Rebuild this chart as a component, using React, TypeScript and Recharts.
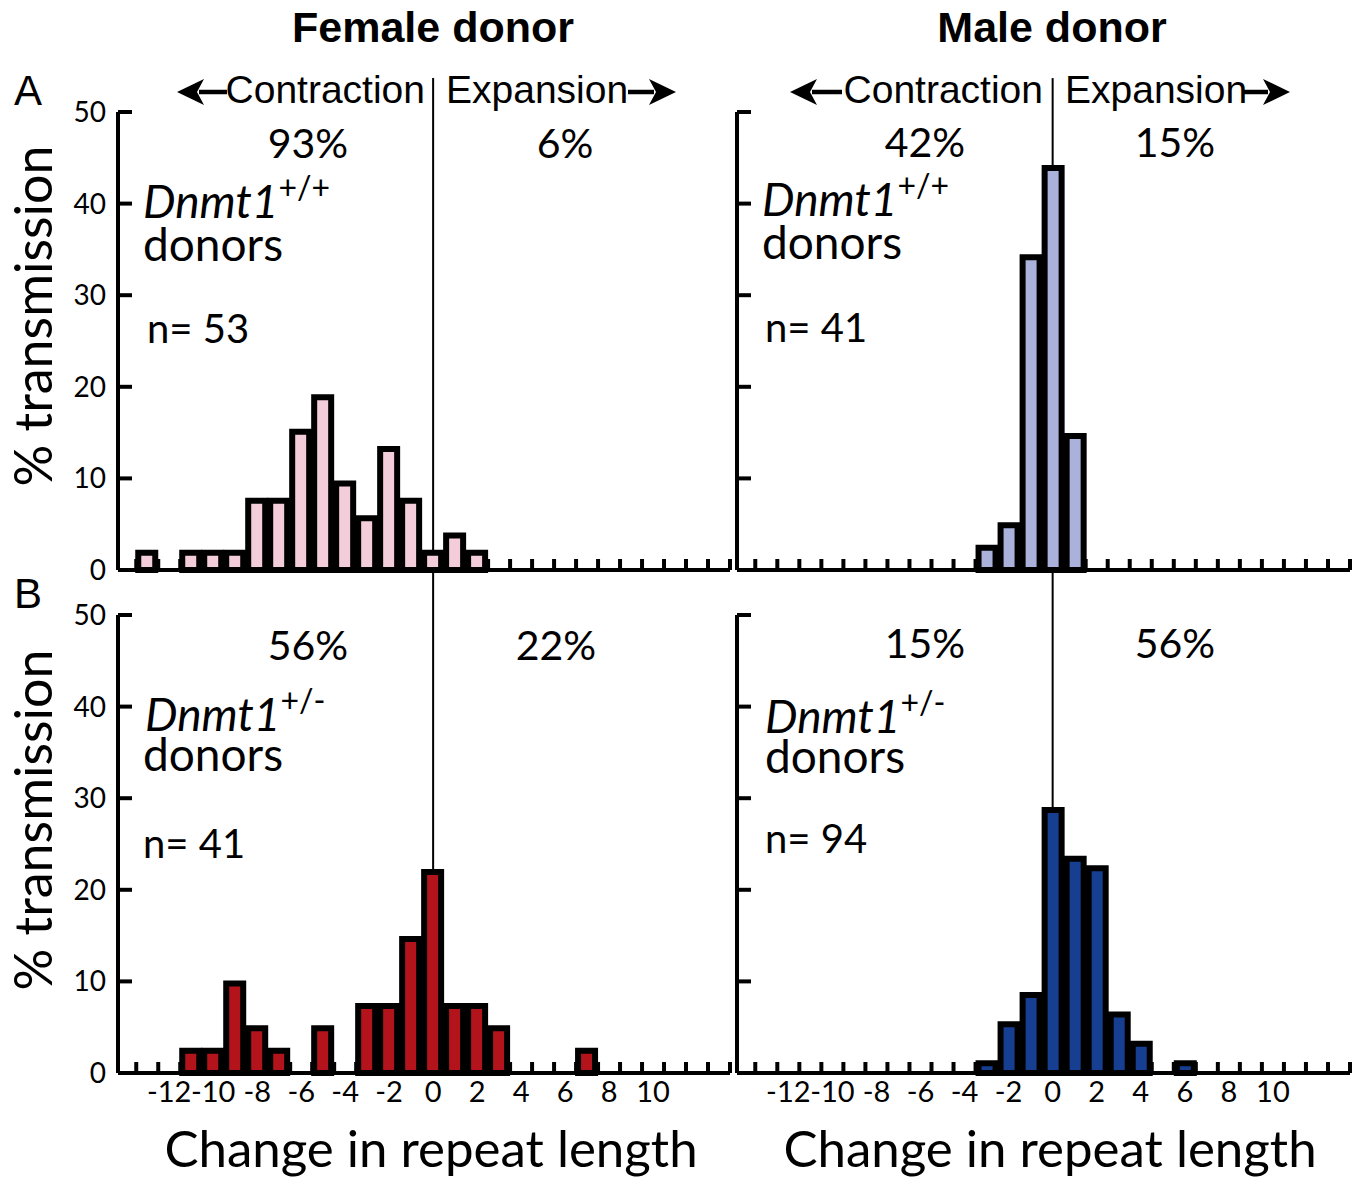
import React from 'react'
import { ComposedChart, Bar, XAxis, YAxis, ReferenceLine } from 'recharts'

// change in repeat length (bin centres)
const repeatChange = [-13, -12, -11, -10, -9, -8, -7, -6, -5, -4, -3, -2, -1, 0, 1, 2, 3, 4, 5, 6, 7]

// % transmission per bin
const femaleWildType = [1.89, null, 1.89, 1.89, 1.89, 7.55, 7.55, 15.09, 18.87, 9.43, 5.66, 13.21, 7.55, 1.89, 3.77, 1.89, null, null, null, null, null]
const maleWildType = [null, null, null, null, null, null, null, null, null, null, 2.44, 4.88, 34.15, 43.9, 14.63, null, null, null, null, null, null]
const femaleHet = [null, null, 2.44, 2.44, 9.76, 4.88, 2.44, null, 4.88, null, 7.32, 7.32, 14.63, 21.95, 7.32, 7.32, 4.88, null, null, null, 2.44]
const maleHet = [null, null, null, null, null, null, null, null, null, null, 1.06, 5.32, 8.51, 28.72, 23.4, 22.34, 6.38, 3.19, null, 1.06, null]

// labelled ticks and the small bin-edge marks along the x axis
const xLabelTicks = [-12, -10, -8, -6, -4, -2, 0, 2, 4, 6, 8, 10]
const xBinEdges = [-13.5, -12.5, -11.5, -10.5, -9.5, -8.5, -7.5, -6.5, -5.5, -4.5, -3.5, -2.5, -1.5, -0.5, 0.5, 1.5, 2.5, 3.5, 4.5, 5.5, 6.5, 7.5, 8.5, 9.5, 10.5, 11.5, 12.5, 13.5]
const yTicks = [0, 10, 20, 30, 40, 50]
const xDomain = [-14.33, 13.5]

const SANS = 'Lato, "Open Sans", sans-serif'
const HELV = '"Liberation Sans", Arial, sans-serif'

const xAllTicks = [...xBinEdges, ...xLabelTicks].sort((a, b) => a - b)

function toRows(values: (number | null)[]) {
  return repeatChange.map((c, i) => ({ change: c, pct: values[i] }))
}

function XTick(props: any) {
  const { x, y, payload, showLabel } = props
  const v = payload.value
  if (!Number.isInteger(v)) {
    return <line x1={x} x2={x} y1={y} y2={y - 11} stroke="#000" strokeWidth={4} />
  }
  if (!showLabel) return null
  return (
    <text x={x} y={y + 8} dy="0.71em" textAnchor="middle" fontFamily={SANS} fontSize={29} fill="#000">
      {v}
    </text>
  )
}

function YTick(props: any) {
  const { x, y, payload, showLabel } = props
  return (
    <g>
      <line x1={x} x2={x + 14} y1={y} y2={y} stroke="#000" strokeWidth={4} />
      {showLabel && (
        <text x={x - 12} y={y} dy="0.355em" textAnchor="end" fontFamily={SANS} fontSize={28} fill="#000">
          {payload.value}
        </text>
      )}
    </g>
  )
}

interface PanelProps {
  left: number
  top: number
  width: number
  height: number
  marginRight: number
  xAxisHeight: number
  values: (number | null)[]
  fill: string
  showY: boolean
  showX: boolean
  lineTop: number
}

function Panel({ left, top, width, height, marginRight, xAxisHeight, values, fill, showY, showX, lineTop }: PanelProps) {
  // the divider at 0 starts on top of the 0 bar so it stays behind it
  const atZero = values[repeatChange.indexOf(0)] ?? 0
  return (
    <div style={{ position: 'absolute', left, top }}>
      <ComposedChart width={width} height={height} data={toRows(values)} margin={{ top: 112, right: marginRight, left: 0, bottom: 0 }}>
        <XAxis
          dataKey="change"
          type="number"
          domain={xDomain}
          allowDataOverflow
          ticks={xAllTicks}
          interval={0}
          height={xAxisHeight}
          tickLine={false}
          tickSize={0}
          tickMargin={0}
          axisLine={{ stroke: '#000', strokeWidth: 4 }}
          tick={(p: any) => <XTick {...p} showLabel={showX} />}
        />
        <YAxis
          type="number"
          domain={[0, 50]}
          ticks={yTicks}
          interval={0}
          width={118}
          tickLine={false}
          tickSize={0}
          tickMargin={0}
          axisLine={{ stroke: '#000', strokeWidth: 4 }}
          tick={(p: any) => <YTick {...p} showLabel={showY} />}
        />
        <ReferenceLine segment={[{ x: 0, y: atZero }, { x: 0, y: lineTop }]} ifOverflow="visible" stroke="#000" strokeWidth={2} />
        <Bar dataKey="pct" fill={fill} stroke="#000" strokeWidth={6} barSize={17} isAnimationActive={false} />
      </ComposedChart>
    </div>
  )
}

function Arrow({ x1, x2, y }: { x1: number; x2: number; y: number }) {
  // arrow pointing from x1 towards x2
  const dir = x2 > x1 ? 1 : -1
  const headLen = 22
  const baseX = x2 - dir * headLen
  return (
    <g>
      <line x1={x1} y1={y} x2={baseX} y2={y} stroke="#000" strokeWidth={4.5} />
      <path d={`M${x2},${y} L${baseX - dir * 5},${y - 13} L${baseX + dir * 2},${y} L${baseX - dir * 5},${y + 13} Z`} fill="#000" />
    </g>
  )
}

function Genotype({ x, y, sup }: { x: number; y: number; sup: string }) {
  return (
    <text x={x} y={y} fontFamily={SANS} fontSize={46} fill="#000">
      <tspan fontStyle="italic">Dnmt1</tspan>
      <tspan fontSize={32} dy={-19}>{sup}</tspan>
    </text>
  )
}

export default function App() {
  return (
    <div style={{ position: 'absolute', left: 0, top: 0, width: 1363, height: 1180, background: '#fff', overflow: 'hidden' }}>
      <Panel left={0} top={0} width={745} height={600} marginRight={15} xAxisHeight={30} values={femaleWildType} fill="#f3cdd9" showY showX={false} lineTop={53.7} />
      <Panel left={619} top={0} width={744} height={600} marginRight={13} xAxisHeight={30} values={maleWildType} fill="#aab2dc" showY={false} showX={false} lineTop={53.7} />
      <Panel left={0} top={503} width={745} height={607} marginRight={15} xAxisHeight={37} values={femaleHet} fill="#b3141b" showY showX lineTop={54.7} />
      <Panel left={619} top={503} width={744} height={607} marginRight={13} xAxisHeight={37} values={maleHet} fill="#173f91" showY={false} showX lineTop={54.7} />

      <svg width={1363} height={1180} style={{ position: 'absolute', left: 0, top: 0, pointerEvents: 'none' }}>
        <text x={433} y={42} textAnchor="middle" fontFamily={HELV} fontWeight="bold" fontSize={43}>Female donor</text>
        <text x={1052} y={42} textAnchor="middle" fontFamily={HELV} fontWeight="bold" fontSize={43}>Male donor</text>

        <text x={14} y={105} fontFamily={HELV} fontSize={42}>A</text>
        <text x={14} y={608} fontFamily={HELV} fontSize={42}>B</text>

        <Arrow x1={227} x2={177} y={92} />
        <text x={425} y={103} textAnchor="end" fontFamily={HELV} fontSize={39}>Contraction</text>
        <text x={446} y={103} fontFamily={HELV} fontSize={39}>Expansion</text>
        <Arrow x1={628} x2={676} y={92} />

        <Arrow x1={842} x2={790} y={92} />
        <text x={1043} y={103} textAnchor="end" fontFamily={HELV} fontSize={39}>Contraction</text>
        <text x={1065} y={103} fontFamily={HELV} fontSize={39}>Expansion</text>
        <Arrow x1={1242} x2={1290} y={92} />

        <g fontFamily={SANS} fontSize={41} textAnchor="middle">
          <text x={308} y={158}>93%</text>
          <text x={565} y={158}>6%</text>
          <text x={925} y={157}>42%</text>
          <text x={1175} y={157}>15%</text>
          <text x={308} y={660}>56%</text>
          <text x={556} y={660}>22%</text>
          <text x={925} y={658}>15%</text>
          <text x={1175} y={658}>56%</text>
        </g>

        <Genotype x={143} y={218} sup="+/+" />
        <Genotype x={762} y={216} sup="+/+" />
        <Genotype x={145} y={731} sup="+/-" />
        <Genotype x={765} y={733} sup="+/-" />

        <g fontFamily={SANS} fontSize={46}>
          <text x={143} y={261}>donors</text>
          <text x={762} y={259}>donors</text>
          <text x={143} y={771}>donors</text>
          <text x={765} y={773}>donors</text>
        </g>

        <g fontFamily={SANS} fontSize={40}>
          <text x={147} y={343}>n= 53</text>
          <text x={765} y={342}>n= 41</text>
          <text x={143} y={858}>n= 41</text>
          <text x={765} y={853}>n= 94</text>
        </g>

        <text x={52} y={316} transform="rotate(-90 52 316)" textAnchor="middle" fontFamily={SANS} fontSize={52}>% transmission</text>
        <text x={52} y={820} transform="rotate(-90 52 820)" textAnchor="middle" fontFamily={SANS} fontSize={52}>% transmission</text>

        <text x={431} y={1167} textAnchor="middle" fontFamily={SANS} fontSize={51}>Change in repeat length</text>
        <text x={1050} y={1167} textAnchor="middle" fontFamily={SANS} fontSize={51}>Change in repeat length</text>
      </svg>
    </div>
  )
}
